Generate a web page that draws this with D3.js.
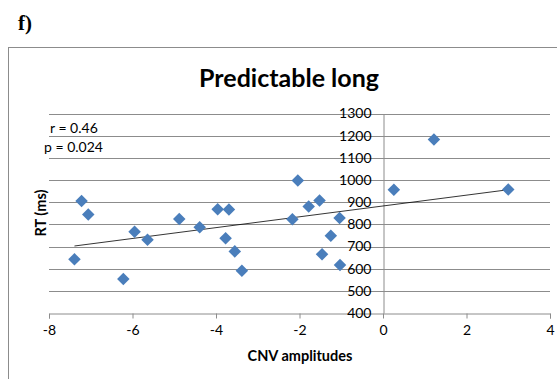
<!DOCTYPE html>
<html>
<head>
<meta charset="utf-8">
<script src="https://cdn.jsdelivr.net/npm/d3@7"></script>
<style>
  body { margin: 0; background: #fff; }
  svg { display: block; }
</style>
</head>
<body>
<div class="graph"></div>
<script>
// CNV amplitude vs RT, predictable long condition
var cnv = [-7.22, -7.06, -7.39, -6.22, -5.95, -5.64, -4.88, -4.39, -3.96, -3.69, -3.77, -3.55, -3.38,
           -2.04, -2.17, -1.78, -1.52, -1.04, -1.25, -1.46, -1.03, 0.26, 1.22, 3.0];
var rt = [905, 844, 642, 553, 767, 730, 824, 787, 868, 867, 737, 678, 591,
          998, 823, 880, 908, 829, 748, 665, 617, 956, 1183, 957];
var xTicks = [-8, -6, -4, -2, 0, 2, 4];
var yTicks = [400, 500, 600, 700, 800, 900, 1000, 1100, 1200, 1300];
var statsText = ["r = 0.46", "p = 0.024"];

var W = 557, H = 379;
var font = "Lato, 'Open Sans', sans-serif";

var svg = d3.select("div.graph").append("svg")
    .attr("width", W)
    .attr("height", H);

// panel letter
svg.append("text")
    .attr("x", 18).attr("y", 30)
    .attr("font-family", "'Liberation Serif', serif")
    .attr("font-weight", "bold")
    .attr("font-size", 21)
    .text("f)");

// chart area border
svg.append("rect")
    .attr("x", 8.5).attr("y", 47.5)
    .attr("width", 560).attr("height", 360)
    .attr("fill", "none")
    .attr("stroke", "#8c8c8c");

var x = d3.scaleLinear().domain([-8, 4]).range([49, 550]);
var y = d3.scaleLinear().domain([400, 1300]).range([313, 113.5]);

// gridlines
svg.append("g").selectAll("line")
  .data(yTicks.slice(1))
  .enter().append("line")
    .attr("x1", x(-8)).attr("x2", x(4))
    .attr("y1", function(d) { return Math.round(y(d)) + 0.5; })
    .attr("y2", function(d) { return Math.round(y(d)) + 0.5; })
    .attr("stroke", "#8c8c8c");

// x axis at y = 400
var xAxis = svg.append("g")
    .attr("transform", "translate(0," + (Math.round(y(400)) + 0.5) + ")")
    .call(d3.axisBottom(x).tickValues(xTicks).tickSize(5).tickPadding(7)
      .tickFormat(function(d) { return d; }));
xAxis.select(".domain").attr("stroke", "#8c8c8c");
xAxis.selectAll(".tick line").attr("stroke", "#8c8c8c");
xAxis.selectAll("text")
    .attr("font-family", font).attr("font-size", 14).attr("fill", "#000");

// y axis at x = 0
var yAxis = svg.append("g")
    .attr("transform", "translate(" + (Math.round(x(0)) + 0.5) + ",0)")
    .call(d3.axisLeft(y).tickValues(yTicks).tickSize(0).tickPadding(12)
      .tickFormat(function(d) { return d; }));
yAxis.select(".domain").attr("stroke", "#8c8c8c");
yAxis.selectAll("text")
    .attr("font-family", font).attr("font-size", 14).attr("fill", "#000");

// linear trendline (least squares over data)
var n = cnv.length;
var mx = d3.mean(cnv), my = d3.mean(rt);
var sxy = 0, sxx = 0;
for (var i = 0; i < n; i++) {
  sxy += (cnv[i] - mx) * (rt[i] - my);
  sxx += (cnv[i] - mx) * (cnv[i] - mx);
}
var slope = sxy / sxx;
var icpt = my - slope * mx;
var ext = d3.extent(cnv);
svg.append("line")
    .attr("x1", x(ext[0])).attr("y1", y(icpt + slope * ext[0]))
    .attr("x2", x(ext[1])).attr("y2", y(icpt + slope * ext[1]))
    .attr("stroke", "#000")
    .attr("stroke-width", 0.8);

// points
var diamond = d3.symbol().type(d3.symbolDiamond2).size(100);
svg.append("g").selectAll("path")
  .data(d3.range(n))
  .enter().append("path")
    .attr("d", diamond)
    .attr("transform", function(i) { return "translate(" + x(cnv[i]) + "," + y(rt[i]) + ")"; })
    .attr("fill", "#4a7ebb");

// title
svg.append("text")
    .attr("x", 289).attr("y", 87)
    .attr("text-anchor", "middle")
    .attr("font-family", font)
    .attr("font-weight", "bold")
    .attr("font-size", 25)
    .text("Predictable long");

// stats
svg.append("g").selectAll("text")
  .data(statsText)
  .enter().append("text")
    .attr("x", function(d, i) { return i === 0 ? 50 : 44; })
    .attr("y", function(d, i) { return 133 + i * 19; })
    .attr("font-family", font)
    .attr("font-size", 14)
    .text(function(d) { return d; });

// axis titles
svg.append("text")
    .attr("x", 300).attr("y", 361)
    .attr("text-anchor", "middle")
    .attr("font-family", font)
    .attr("font-weight", "bold")
    .attr("font-size", 14.5)
    .text("CNV amplitudes");

svg.append("text")
    .attr("transform", "translate(46,213) rotate(-90)")
    .attr("text-anchor", "middle")
    .attr("font-family", font)
    .attr("font-weight", "bold")
    .attr("font-size", 14.5)
    .text("RT (ms)");
</script>
</body>
</html>
